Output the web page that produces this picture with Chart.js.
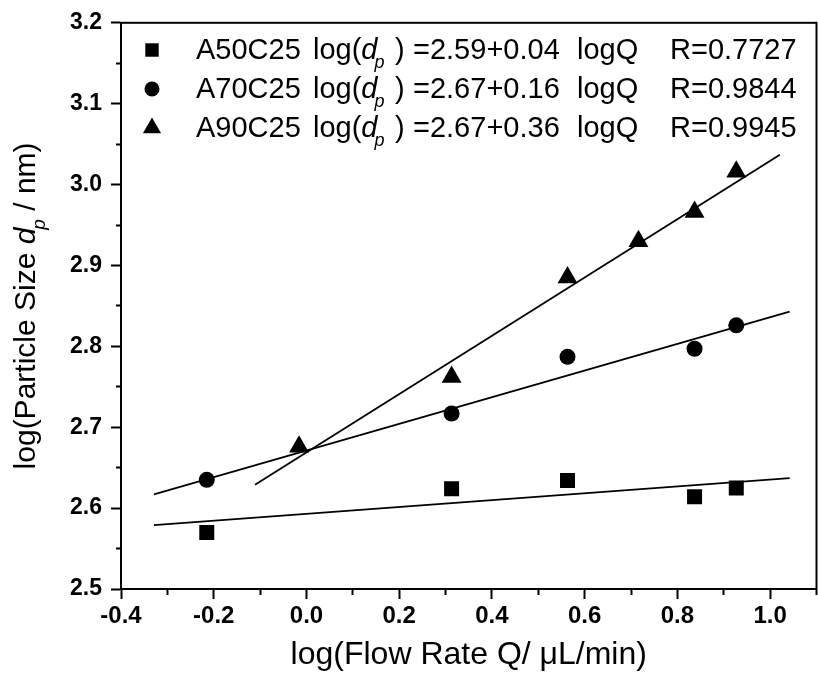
<!DOCTYPE html>
<html>
<head>
<meta charset="utf-8">
<script src="https://cdn.jsdelivr.net/npm/chart.js@4.4.1/dist/chart.umd.min.js"></script>
<style>
  html, body { margin: 0; padding: 0; background: #fff; overflow: hidden; }
  canvas { display: block; }
</style>
</head>
<body>
<canvas id="myChart" width="818" height="675"></canvas>
<script>
const FONT = '"Liberation Sans", Arial, Helvetica, sans-serif';

// measured points, log(Q) vs log(dp)
const xA50 = [-0.215, 0.313, 0.563, 0.837, 0.927];
const yA50 = [2.570, 2.624, 2.634, 2.614, 2.625];
const xA70 = [-0.215, 0.313, 0.563, 0.837, 0.927];
const yA70 = [2.635, 2.717, 2.787, 2.797, 2.826];
const xA90 = [-0.016, 0.313, 0.563, 0.716, 0.837, 0.927];
const yA90 = [2.676, 2.762, 2.885, 2.930, 2.966, 3.016];

// fit lines, end points
const fitX50 = [-0.329, 1.042];
const fitY50 = [2.579, 2.637];
const fitX70 = [-0.329, 1.042];
const fitY70 = [2.617, 2.843];
const fitX90 = [-0.111, 1.021];
const fitY90 = [2.629, 3.037];

// legend text
const seriesNames = ['A50C25', 'A70C25', 'A90C25'];
const equations = ['=2.59+0.04', '=2.67+0.16', '=2.67+0.36'];
const rValues = ['R=0.7727', 'R=0.9844', 'R=0.9945'];
const markerStyles = ['rect', 'circle', 'triangle'];
const markerSizes = [10.6, 8, 11.5];

const toXY = (xs, ys) => xs.map((x, i) => ({ x: x, y: ys[i] }));

function pointSet(label, xs, ys, i) {
  return {
    label: label,
    data: toXY(xs, ys),
    pointStyle: markerStyles[i],
    pointRadius: markerSizes[i],
    pointBackgroundColor: '#000',
    pointBorderWidth: 0,
    showLine: false
  };
}

function fitSet(xs, ys) {
  return {
    label: 'fit',
    data: toXY(xs, ys),
    showLine: true,
    borderColor: '#000',
    borderWidth: 1.8,
    pointRadius: 0
  };
}

// draws a run of text pieces; pieces may be italic or subscript
function drawPieces(ctx, pieces, x, y, size) {
  let cx = x;
  pieces.forEach(p => {
    if (p.at !== undefined) cx = p.at;
    const fs = p.sub ? Math.round(size * 0.62) : size;
    ctx.font = (p.italic ? 'italic ' : '') + fs + 'px ' + FONT;
    const dy = p.sub ? size * 0.32 : 0;
    const dx = p.back || 0;
    ctx.fillText(p.t, cx - dx, y + dy);
    cx += ctx.measureText(p.t).width - dx;
  });
}

const decor = {
  id: 'decor',
  beforeDraw(chart) {
    const ctx = chart.ctx;
    ctx.save();
    ctx.fillStyle = '#fff';
    ctx.fillRect(0, 0, chart.width, chart.height);
    ctx.restore();
  },
  afterDraw(chart) {
    const ctx = chart.ctx;
    const a = chart.chartArea;
    ctx.save();
    // frame
    ctx.strokeStyle = '#000';
    ctx.lineWidth = 2;
    ctx.strokeRect(a.left, a.top, a.right - a.left, a.bottom - a.top);

    ctx.fillStyle = '#000';
    ctx.textBaseline = 'alphabetic';
    ctx.textAlign = 'left';

    // legend
    const rowY = [50, 89, 128];
    for (let i = 0; i < 3; i++) {
      Chart.helpers.drawPoint(ctx, {
        pointStyle: markerStyles[i],
        radius: i === 2 ? 10.5 : (i === 0 ? 9.5 : 7.5),
        rotation: 0,
        borderWidth: 0
      }, 152, rowY[i]);
      const base = rowY[i] + 9;
      drawPieces(ctx, [
        { t: seriesNames[i], at: 196 },
        { t: 'log(', at: 313 },
        { t: 'd', italic: true },
        { t: 'p', italic: true, sub: true, back: 3 },
        { t: ')', at: 395 },
        { t: equations[i], at: 413 },
        { t: 'logQ', at: 577 },
        { t: rValues[i], at: 670 }
      ], 0, base, 29);
    }

    // x title
    ctx.font = '32px ' + FONT;
    const xt = 'log(Flow Rate Q/ \u03bcL/min)';
    const xw = ctx.measureText(xt).width;
    ctx.fillText(xt, (a.left + a.right) / 2 - xw / 2, 664);

    // y title, rotated
    ctx.translate(35, (a.top + a.bottom) / 2);
    ctx.rotate(-Math.PI / 2);
    const yp = [
      { t: 'log(Particle Size ' },
      { t: 'd', italic: true },
      { t: 'p', italic: true, sub: true, back: 2 },
      { t: ' / nm)' }
    ];
    let yw = 0;
    yp.forEach(p => {
      ctx.font = (p.italic ? 'italic ' : '') + (p.sub ? 19 : 30) + 'px ' + FONT;
      yw += ctx.measureText(p.t).width - (p.back || 0);
    });
    drawPieces(ctx, yp, -yw / 2, 0, 30);
    ctx.restore();
  }
};

const config = {
  type: 'scatter',
  data: {
    datasets: [
      pointSet(seriesNames[0], xA50, yA50, 0),
      pointSet(seriesNames[1], xA70, yA70, 1),
      pointSet(seriesNames[2], xA90, yA90, 2),
      fitSet(fitX50, fitY50),
      fitSet(fitX70, fitY70),
      fitSet(fitX90, fitY90)
    ]
  },
  options: {
    responsive: false,
    animation: false,
    layout: { padding: { top: 21, right: 2, left: 0, bottom: 0 } },
    plugins: {
      legend: { display: false },
      tooltip: { enabled: false }
    },
    scales: {
      x: {
        type: 'linear',
        min: -0.4,
        max: 1.1,
        afterFit: s => { s.height = 86; s.paddingRight = 0; s.paddingLeft = 0; },
        border: { display: true, color: '#000', width: 2 },
        grid: {
          drawOnChartArea: false,
          tickLength: 10,
          tickWidth: 2,
          tickColor: '#000',
          tickBorderDash: c => (Math.round(c.tick.value * 10) % 2 === 0 ? [] : [5, 100])
        },
        ticks: {
          stepSize: 0.1,
          autoSkip: false,
          maxRotation: 0,
          padding: 3,
          color: '#000',
          font: { family: FONT, size: 24, weight: 'bold' },
          callback: v => {
            const k = Math.round(v * 10);
            return k % 2 === 0 ? (k / 10).toFixed(1) : '';
          }
        }
      },
      y: {
        type: 'linear',
        min: 2.5,
        max: 3.2,
        afterFit: s => { s.width = 121; },
        border: { display: true, color: '#000', width: 2 },
        grid: {
          drawOnChartArea: false,
          tickLength: 10,
          tickWidth: 2,
          tickColor: '#000',
          tickBorderDash: c => (Math.round(c.tick.value * 100) % 10 === 0 ? [] : [0, 5, 5, 100])
        },
        ticks: {
          stepSize: 0.05,
          autoSkip: false,
          padding: 9,
          color: '#000',
          font: { family: FONT, size: 23, weight: 'bold' },
          callback: v => {
            const k = Math.round(v * 100);
            return k % 10 === 0 ? (k / 100).toFixed(1) : '';
          }
        }
      }
    }
  },
  plugins: [decor]
};

const canvas = document.getElementById('myChart');
let myChart = new Chart(canvas, config);
// the x scale keeps a few px on the right; widen the canvas so the plot box ends at 816
const gap = Math.round(816 - myChart.chartArea.right);
if (gap !== 0) {
  myChart.destroy();
  canvas.width = 818 + gap;
  canvas.height = 675;
  myChart = new Chart(canvas, config);
}
</script>
</body>
</html>
